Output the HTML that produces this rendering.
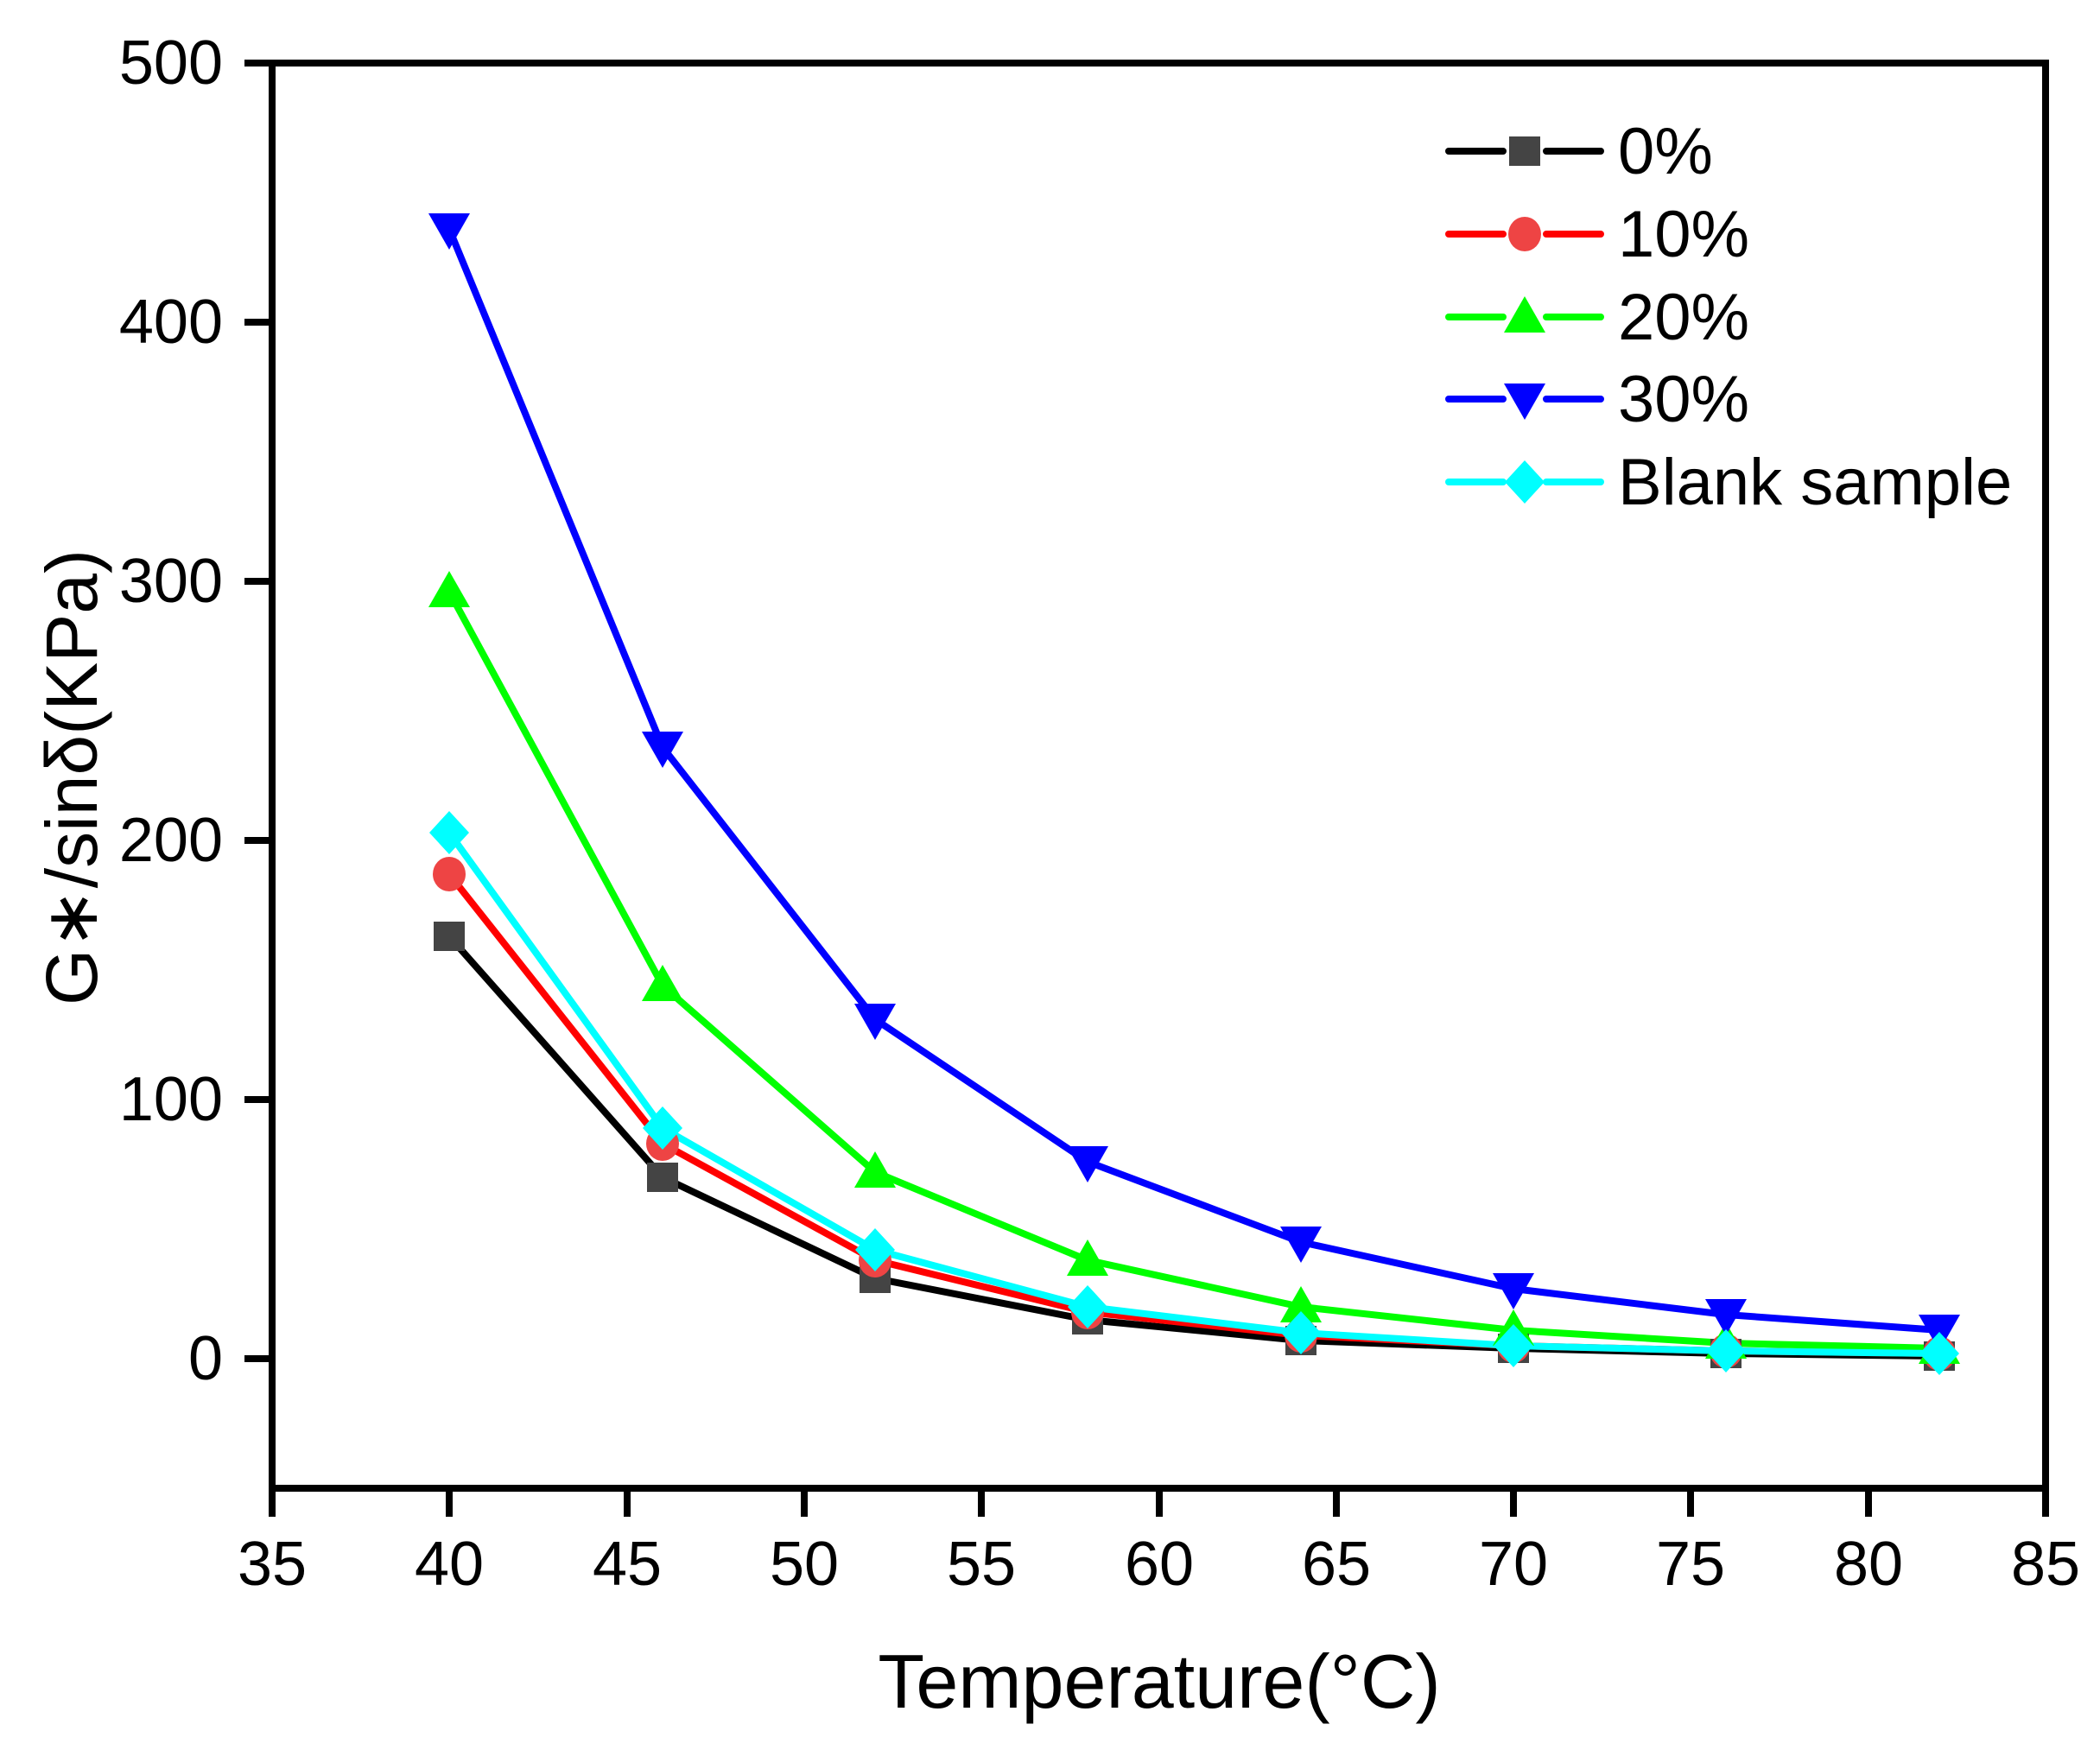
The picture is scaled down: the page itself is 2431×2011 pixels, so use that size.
<!DOCTYPE html>
<html><head><meta charset="utf-8"><style>
html,body{margin:0;padding:0;background:#fff;}
svg{display:block;}
text{font-family:"Liberation Sans",Arial,sans-serif;fill:#000;}
</style></head><body>
<svg width="2431" height="2011" viewBox="0 0 2431 2011" xmlns="http://www.w3.org/2000/svg">
<defs>
<rect id="sq" x="-18" y="-17" width="36" height="34" fill="#444"/>
<ellipse id="ci" cx="0" cy="0" rx="19" ry="20" fill="#ee4444"/>
<polygon id="tu" points="0,-24 24,18 -24,18" fill="#00ff00"/>
<polygon id="td" points="-24,-18 24,-18 0,24" fill="#0000ff"/>
<polygon id="di" points="0,-25 23,0 0,25 -23,0" fill="#00ffff"/>
</defs>
<rect x="315" y="73" width="2053" height="1650" fill="none" stroke="#000" stroke-width="8"/>
<g stroke="#000" stroke-width="8">
<line x1="283" y1="73" x2="315" y2="73"/>
<line x1="283" y1="373" x2="315" y2="373"/>
<line x1="283" y1="673" x2="315" y2="673"/>
<line x1="283" y1="973" x2="315" y2="973"/>
<line x1="283" y1="1273" x2="315" y2="1273"/>
<line x1="283" y1="1573" x2="315" y2="1573"/>
<line x1="315" y1="1723" x2="315" y2="1756"/>
<line x1="520" y1="1723" x2="520" y2="1756"/>
<line x1="726" y1="1723" x2="726" y2="1756"/>
<line x1="931" y1="1723" x2="931" y2="1756"/>
<line x1="1136" y1="1723" x2="1136" y2="1756"/>
<line x1="1342" y1="1723" x2="1342" y2="1756"/>
<line x1="1547" y1="1723" x2="1547" y2="1756"/>
<line x1="1752" y1="1723" x2="1752" y2="1756"/>
<line x1="1957" y1="1723" x2="1957" y2="1756"/>
<line x1="2163" y1="1723" x2="2163" y2="1756"/>
<line x1="2368" y1="1723" x2="2368" y2="1756"/>
</g>
<g font-size="72" text-anchor="end">
<text x="258" y="97">500</text>
<text x="258" y="397">400</text>
<text x="258" y="697">300</text>
<text x="258" y="997">200</text>
<text x="258" y="1297">100</text>
<text x="258" y="1597">0</text>
</g>
<g font-size="72" text-anchor="middle">
<text x="315" y="1835">35</text>
<text x="520" y="1835">40</text>
<text x="726" y="1835">45</text>
<text x="931" y="1835">50</text>
<text x="1136" y="1835">55</text>
<text x="1342" y="1835">60</text>
<text x="1547" y="1835">65</text>
<text x="1752" y="1835">70</text>
<text x="1957" y="1835">75</text>
<text x="2163" y="1835">80</text>
<text x="2368" y="1835">85</text>
</g>
<text x="1342" y="1977" font-size="88" text-anchor="middle">Temperature(°C)</text>
<text transform="translate(112,900) rotate(-90)" font-size="84" text-anchor="middle">G∗/sinδ(KPa)</text>
<g fill="none" stroke-width="8" stroke-linejoin="round">
<polyline stroke="#000" points="520,1084 767,1363 1013,1480 1259,1528 1506,1552 1752,1561 1998,1567 2245,1570"/>
<polyline stroke="#ff0000" points="520,1012 767,1324 1013,1459 1259,1519 1506,1546 1752,1558 1998,1564 2245,1567"/>
<polyline stroke="#00ff00" points="520,685 767,1141 1013,1357 1259,1459 1506,1513 1752,1540 1998,1555 2245,1561"/>
<polyline stroke="#0000ff" points="520,265 767,865 1013,1180 1259,1345 1506,1438 1752,1492 1998,1522 2245,1540"/>
<polyline stroke="#00ffff" points="520,964 767,1306 1013,1447 1259,1513 1506,1543 1752,1558 1998,1564 2245,1567"/>
</g>
<g>
<use href="#sq" x="520" y="1084"/><use href="#sq" x="767" y="1363"/><use href="#sq" x="1013" y="1480"/><use href="#sq" x="1259" y="1528"/><use href="#sq" x="1506" y="1552"/><use href="#sq" x="1752" y="1561"/><use href="#sq" x="1998" y="1567"/><use href="#sq" x="2245" y="1570"/>
<use href="#ci" x="520" y="1012"/><use href="#ci" x="767" y="1324"/><use href="#ci" x="1013" y="1459"/><use href="#ci" x="1259" y="1519"/><use href="#ci" x="1506" y="1546"/><use href="#ci" x="1752" y="1558"/><use href="#ci" x="1998" y="1564"/><use href="#ci" x="2245" y="1567"/>
<use href="#tu" x="520" y="685"/><use href="#tu" x="767" y="1141"/><use href="#tu" x="1013" y="1357"/><use href="#tu" x="1259" y="1459"/><use href="#tu" x="1506" y="1513"/><use href="#tu" x="1752" y="1540"/><use href="#tu" x="1998" y="1555"/><use href="#tu" x="2245" y="1561"/>
<use href="#td" x="520" y="265"/><use href="#td" x="767" y="865"/><use href="#td" x="1013" y="1180"/><use href="#td" x="1259" y="1345"/><use href="#td" x="1506" y="1438"/><use href="#td" x="1752" y="1492"/><use href="#td" x="1998" y="1522"/><use href="#td" x="2245" y="1540"/>
<use href="#di" x="520" y="964"/><use href="#di" x="767" y="1306"/><use href="#di" x="1013" y="1447"/><use href="#di" x="1259" y="1513"/><use href="#di" x="1506" y="1543"/><use href="#di" x="1752" y="1558"/><use href="#di" x="1998" y="1564"/><use href="#di" x="2245" y="1567"/>
</g>
<g stroke-width="8" stroke-linecap="round">
<line x1="1677" y1="175" x2="1740" y2="175" stroke="#000"/><line x1="1790" y1="175" x2="1853" y2="175" stroke="#000"/>
<line x1="1677" y1="271" x2="1740" y2="271" stroke="#ff0000"/><line x1="1790" y1="271" x2="1853" y2="271" stroke="#ff0000"/>
<line x1="1677" y1="367" x2="1740" y2="367" stroke="#00ff00"/><line x1="1790" y1="367" x2="1853" y2="367" stroke="#00ff00"/>
<line x1="1677" y1="462" x2="1740" y2="462" stroke="#0000ff"/><line x1="1790" y1="462" x2="1853" y2="462" stroke="#0000ff"/>
<line x1="1677" y1="558" x2="1740" y2="558" stroke="#00ffff"/><line x1="1790" y1="558" x2="1853" y2="558" stroke="#00ffff"/>
</g>
<use href="#sq" x="1765" y="175"/>
<use href="#ci" x="1765" y="271"/>
<use href="#tu" x="1765" y="367"/>
<use href="#td" x="1765" y="462"/>
<use href="#di" x="1765" y="558"/>
<g font-size="76">
<text x="1873" y="201">0%</text>
<text x="1873" y="297">10%</text>
<text x="1873" y="393">20%</text>
<text x="1873" y="488">30%</text>
<text x="1873" y="584">Blank sample</text>
</g>
</svg>
</body></html>
